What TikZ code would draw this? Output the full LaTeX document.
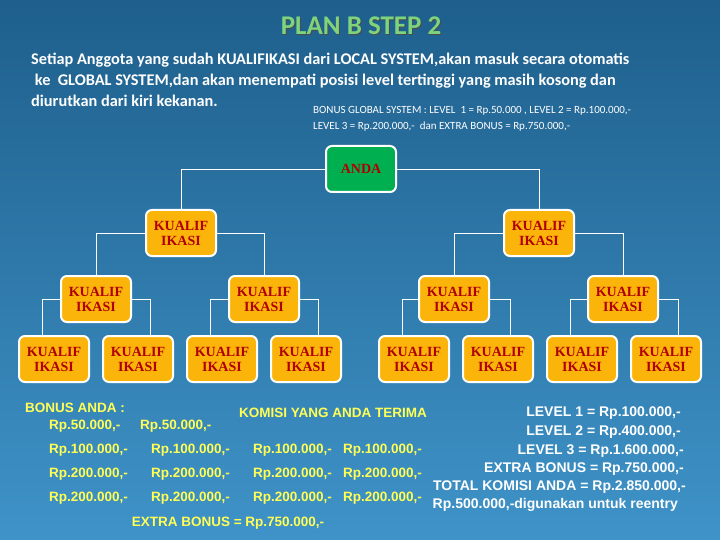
\documentclass[tikz,border=0pt]{standalone}
\usepackage{fontspec}
\setmainfont{Liberation Serif}
\newfontfamily\carlitofont{Carlito}
\newfontfamily\arifont{Liberation Sans}
\definecolor{bgtop}{HTML}{1E5F8C}
\definecolor{bgbot}{HTML}{3F93C8}
\definecolor{boxor}{HTML}{FBB40A}
\definecolor{boxgr}{HTML}{00B050}
\definecolor{txred}{HTML}{B00000}
\definecolor{ttlgr}{HTML}{7DD47D}
\definecolor{ylw}{HTML}{FFFF55}
\begin{document}
\begin{tikzpicture}[x=1pt,y=-1pt,
  kbox/.style={draw=white,line width=2pt,fill=boxor,rounded corners=6pt,minimum width=70pt,minimum height=46pt,inner sep=1pt,align=center,text=txred,font=\fontsize{14}{15}\selectfont\bfseries},
  conn/.style={draw=white,line width=0.8pt},
  yt/.style={text=ylw,font=\arifont\fontsize{13.5}{15}\selectfont\bfseries,inner sep=0pt,anchor=west},
  wt/.style={text=white,font=\arifont\fontsize{14}{16}\selectfont\bfseries,inner sep=0pt,anchor=east}]
\shade[top color=bgtop,bottom color=bgbot] (0,0) rectangle (720,540);
\useasboundingbox (0,0) rectangle (720,540);
\node[text=black!70,font=\carlitofont\fontsize{27}{30}\selectfont\bfseries] at (362,27) {PLAN B STEP 2};
\node[text=ttlgr,font=\carlitofont\fontsize{27}{30}\selectfont\bfseries] (title) at (361,26) {PLAN B STEP 2};
\node[text=white,font=\carlitofont\fontsize{16.3}{21}\selectfont\bfseries,anchor=north west,align=left,inner sep=0pt] (para) at (31,53) {Setiap Anggota yang sudah KUALIFIKASI dari LOCAL SYSTEM,akan masuk secara otomatis\\\ ke \ GLOBAL SYSTEM,dan akan menempati posisi level tertinggi yang masih kosong dan\\diurutkan dari kiri kekanan.};
\node[text=white,font=\carlitofont\fontsize{11}{16}\selectfont,anchor=north west,align=left,inner sep=0pt] (bgs) at (313,106) {BONUS GLOBAL SYSTEM : LEVEL \ 1 = Rp.50.000 , LEVEL 2 = Rp.100.000,-\\LEVEL 3 = Rp.200.000,- \ dan EXTRA BONUS = Rp.750.000,-};
% tree
\node[kbox,fill=boxgr] (a) at (361,169) {ANDA};
\node[kbox] (b1) at (181,233) {KUALIF\\IKASI};
\node[kbox] (b2) at (539,233) {KUALIF\\IKASI};
\foreach \x/\n in {96/c1,264/c2,454/c3,623/c4} \node[kbox] (\n) at (\x,299) {KUALIF\\IKASI};
\foreach \x/\n in {54/d1,138/d2,222/d3,306/d4,414/d5,498/d6,582/d7,666/d8} \node[kbox] (\n) at (\x,359) {KUALIF\\IKASI};
\draw[conn] (a.west) -| (b1.north);
\draw[conn] (a.east) -| (b2.north);
\draw[conn] (b1.west) -| (c1.north);
\draw[conn] (b1.east) -| (c2.north);
\draw[conn] (b2.west) -| (c3.north);
\draw[conn] (b2.east) -| (c4.north);
\foreach \p/\l/\r in {c1/d1/d2,c2/d3/d4,c3/d5/d6,c4/d7/d8}{
  \draw[conn] (\p.west) -| ([xshift=-12pt]\l.north);
  \draw[conn] (\p.east) -| ([xshift=12pt]\r.north);
}
% bottom left
\node[yt] (ba) at (25,408) {BONUS ANDA :};
\node[yt] (r0a) at (49,426) {Rp.50.000,-};
\node[yt] (r0b) at (140,426) {Rp.50.000,-};
\node[yt,anchor=center] (kom) at (333,413) {KOMISI YANG ANDA TERIMA};
\foreach \y/\v in {450/100,474/200,498/200}{
  \node[yt] at (49,\y) {Rp.\v.000,-};
  \node[yt] at (151,\y) {Rp.\v.000,-};
  \node[yt] at (253,\y) {Rp.\v.000,-};
  \node[yt] at (343,\y) {Rp.\v.000,-};
}
\node[yt,anchor=center] (eb) at (228,523) {EXTRA BONUS = Rp.750.000,-};
% right
\node[wt] at (681,413) {LEVEL 1 = Rp.100.000,-};
\node[wt] at (681,432) {LEVEL 2 = Rp.400.000,-};
\node[wt] at (684,451) {LEVEL 3 = Rp.1.600.000,-};
\node[wt] at (684,469) {EXTRA BONUS = Rp.750.000,-};
\node[wt] at (686,487) {TOTAL KOMISI ANDA = Rp.2.850.000,-};
\node[wt] at (678,505) {Rp.500.000,-digunakan untuk reentry};
\end{tikzpicture}
\end{document}
